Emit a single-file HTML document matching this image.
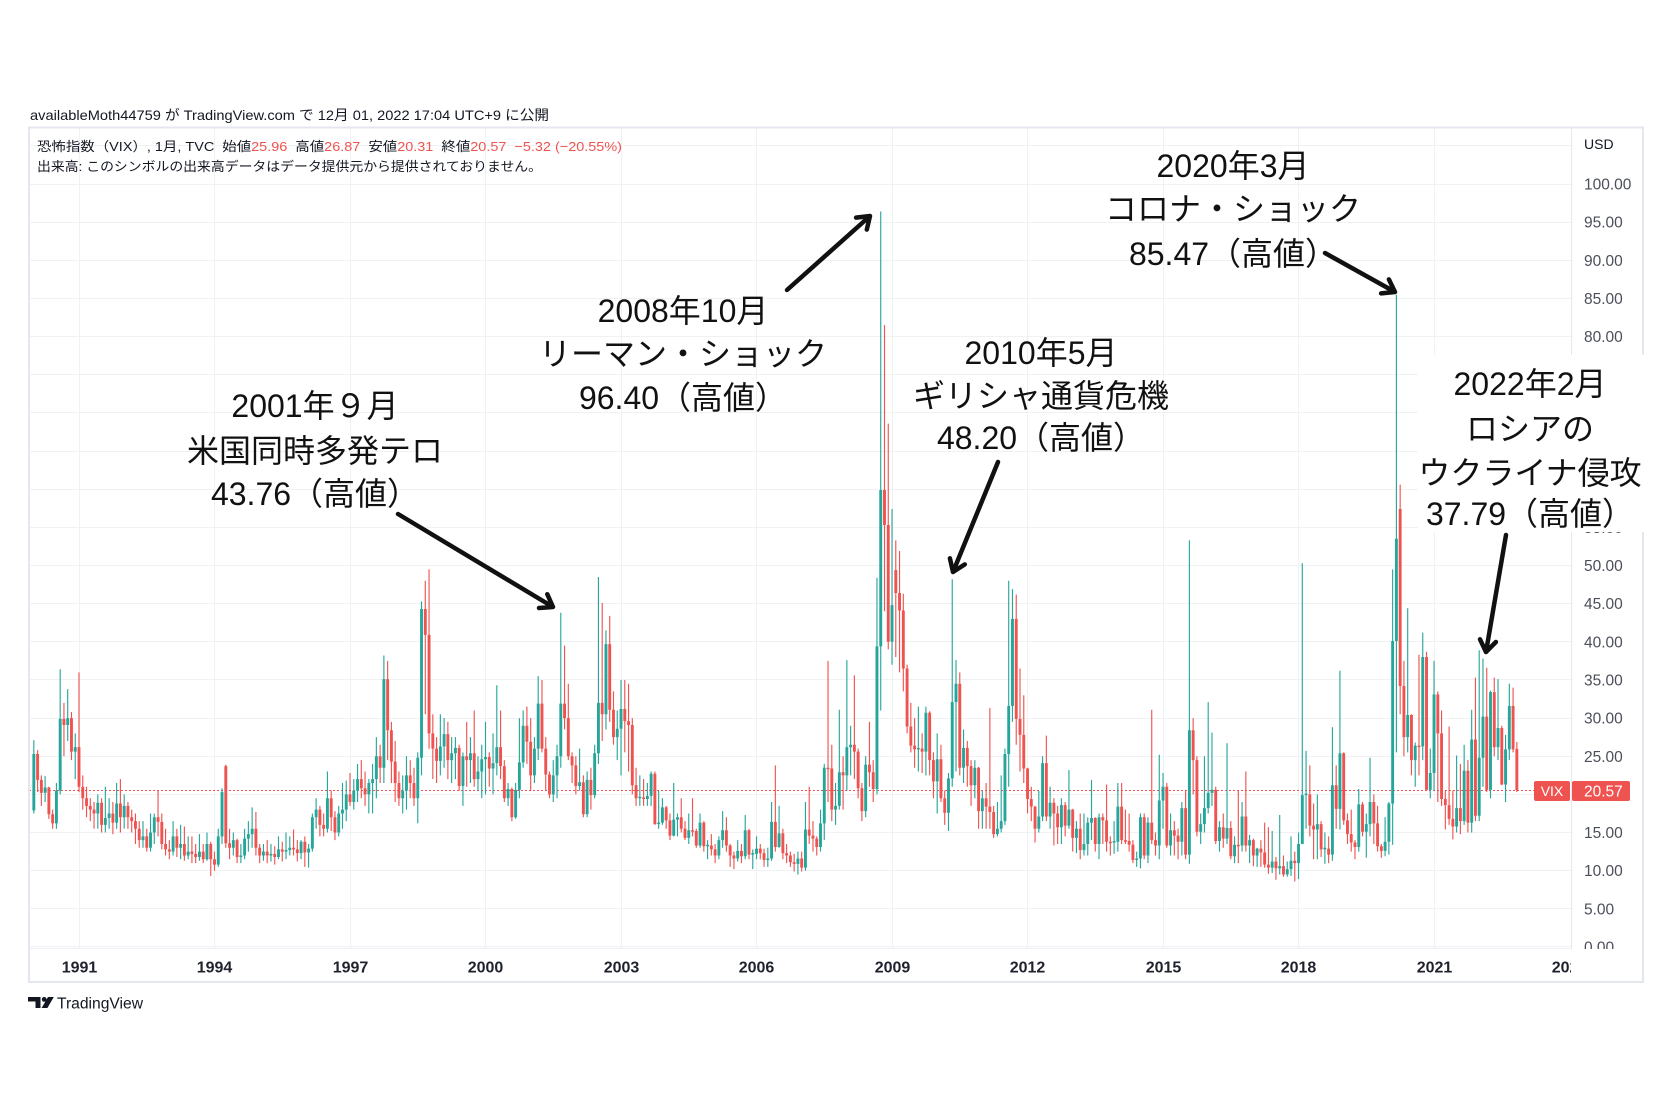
<!DOCTYPE html>
<html><head><meta charset="utf-8"><style>
html,body{margin:0;padding:0;background:#fff;}
svg{display:block;}
.ax{font-family:"Liberation Sans","Noto Sans CJK JP",sans-serif;}
.an{font-family:"Liberation Sans","Noto Sans CJK JP",sans-serif;font-size:32px;fill:#111;}
</style></head><body>
<svg width="1680" height="1120" viewBox="0 0 1680 1120" xmlns="http://www.w3.org/2000/svg">
<defs>
<clipPath id="pax"><rect x="1572" y="128" width="72" height="821"/></clipPath>
<clipPath id="tax"><rect x="29" y="949" width="1542" height="32"/></clipPath>
</defs>
<rect width="1680" height="1120" fill="#fff"/>
<!-- header -->
<text class="ax" x="30" y="120" font-size="14" fill="#131722" textLength="519" lengthAdjust="spacingAndGlyphs">availableMoth44759 が TradingView.com で 12月 01, 2022 17:04 UTC+9 に公開</text>
<!-- gridlines -->
<g stroke="#eff1f5" stroke-width="1" fill="none">
<path d="M29 946.5H1571M29 908.5H1571M29 870.5H1571M29 832.5H1571M29 794.5H1571M29 756.5H1571M29 718.5H1571M29 679.5H1571M29 641.5H1571M29 603.5H1571M29 565.5H1571M29 527.5H1571M29 489.5H1571M29 451.5H1571M29 412.5H1571M29 374.5H1571M29 336.5H1571M29 298.5H1571M29 260.5H1571M29 222.5H1571M29 184.5H1571M29 145.5H1571"/>
<path d="M79.5 128V948M214.5 128V948M350.5 128V948M485.5 128V948M621.5 128V948M756.5 128V948M892.5 128V948M1027.5 128V948M1163.5 128V948M1298.5 128V948M1434.5 128V948"/>
</g>
<line x1="29" y1="948.5" x2="1571" y2="948.5" stroke="#eceef2" stroke-width="1"/>
<line x1="1571.5" y1="128" x2="1571.5" y2="949" stroke="#e6e8ee" stroke-width="1"/>
<!-- legend -->
<text class="ax" x="37" y="151" font-size="13" fill="#131722" textLength="585" lengthAdjust="spacingAndGlyphs" style="white-space:pre">恐怖指数（VIX）, 1月, TVC  始値<tspan fill="#ef5350">25.96</tspan>  高値<tspan fill="#ef5350">26.87</tspan>  安値<tspan fill="#ef5350">20.31</tspan>  終値<tspan fill="#ef5350">20.57</tspan>  <tspan fill="#ef5350">−5.32 (−20.55%)</tspan></text>
<text class="ax" x="37" y="171" font-size="13" fill="#131722" textLength="505" lengthAdjust="spacingAndGlyphs">出来高: このシンボルの出来高データはデータ提供元から提供されておりません。</text>
<!-- price line -->
<line x1="29" y1="790.5" x2="1534" y2="790.5" stroke="#ef5350" stroke-width="1" stroke-dasharray="2 2"/>
<!-- candles -->
<g transform="matrix(3.764 0 0 -7.63 33.83 947)" fill="none" stroke-linecap="butt">
<path stroke="#26a69a" stroke-width="0.3" d="M0 17.5V27.1M3 19V22.4M6 15.5V21.5M7 20V36.4M9 27V33.8M11 22V28M17 15.5V20M19 15V21M20 15.5V19.5M22 15.5V21.5M24 15.5V20M29 13V16.5M31 12.5V17.5M32 13.5V17.5M37 12V16.5M39 11.5V16M41 11.5V14.5M44 11.3V14.8M46 11.3V15M49 10.5V15.5M50 13.5V20.8M53 12V15M55 11V13.5M56 11.5V15.5M57 12.5V16.5M58 13V18.3M61 11.3V13.5M63 11.2V13.5M65 11.5V14.5M67 11.5V15M68 12V14.5M71 11.5V14M73 10.4V13.5M74 12.5V17.5M75 15.5V19.5M78 15V23M81 14.5V18.5M82 15.5V21.5M83 16.5V21.8M85 18V22M86 19V24M89 17.5V22M90 17.5V24M91 19.5V27.5M93 21.5V38.2M98 17.5V22.5M99 18V25M102 16.2V25.5M103 22.5V45.3M108 22.5V30.5M109 23.5V30M111 21.5V27.5M112 22V27.5M114 18.5V25.5M116 21.5V27.5M118 20.5V25M119 19.5V26.5M120 20V29.5M122 20V28M123 22.5V34.3M126 18.5V21.5M128 16.8V21.5M129 19.5V30M130 23.5V31M133 21.5V27.5M134 24.5V35.5M138 19V24.5M139 19.5V26.5M140 23.5V43.8M145 20.5V26M147 17V23M149 19.5V26.5M150 24V48.5M152 28.5V41.5M155 24.5V31M156 22.5V35M161 18.5V22.5M163 18.5V21.5M164 18.5V23M166 15.5V20.5M167 16V19.5M170 14.5V21.5M171 14.5V17.5M174 13.5V17.5M177 13V17.5M179 11.5V14M182 11.5V14.5M183 13V17.8M187 11.2V14M189 11.5V17.3M191 10.2V12.8M192 11.5V14.5M195 10.5V13M196 11.3V19M198 13V18.5M203 9.5V12.5M205 10V19M209 12.5V18M210 14V24M213 16V21.5M214 18V31.1M216 20.5V37.6M217 22.5V29M221 17V25M224 20V48.4M225 31V96.4M228 37V57.4M235 23V31.5M237 22.5V31.5M240 17.5V28M243 15.2V22.8M244 21V48.2M245 23V37.6M247 21.5V28.5M250 19.5V24.5M252 15.5V20.5M256 14.5V19M257 15V22.5M258 16V26M259 21V48M260 29.5V46.9M267 15V20.5M268 16.5V25M270 15.5V21M273 13.5V19.5M275 15.5V23.2M277 12.3V16.5M279 12V17.5M280 12V17M281 14V21.9M283 11.5V17.5M287 12.2V16.5M288 12.5V21.5M293 10.5V12.5M294 10.3V17.5M296 11V17M299 11.5V25.2M300 15.5V22.8M302 12V17.5M305 12V19M307 10.9V53.3M310 13.5V17.5M311 15V25M312 17.5V32.1M313 18.5V28.1M315 12.5V16.5M317 13.5V26.7M319 11V14.5M321 12.5V19M323 11V14.7M325 10.5V13M329 9.7V15.2M331 9.5V17.3M333 9.2V11.2M334 9.3V14.5M336 8.9V15M337 13.5V50.3M338 15.5V25.7M341 11.5V20M343 10.9V15M345 11.3V28.8M347 15.4V36.2M352 12.5V20.7M354 11.7V17.5M355 14.5V24.8M359 11.9V17M360 12.1V19M361 13.4V49.5M362 25.5V85.5M365 25.5V44.4M367 21V26.8M369 24.5V41.2M371 19.5V26M372 20.5V37.5M378 15V25.1M380 16V26.5M382 15V31.1M384 16.5V38.9M385 21V37.8M387 19.5V33.6M389 24.5V35.1M391 19V27.8M392 24.5V34.5"/>
<path stroke="#26a69a" stroke-width="0.77" d="M0 17.9V25.3M3 20.2V20.9M6 16.2V20.5M7 20.5V29.9M9 29.1V30M11 25.6V26.2M17 17.5V18.9M19 16V16.9M20 16.9V17.5M22 16.3V18.8M24 17V18.5M29 14V14.5M31 13V15M32 15V17M37 12.5V14.5M39 13V13.5M41 12V12.5M44 11.8V12.5M46 11.5V13.5M49 10.8V14.5M50 14.5V20.3M53 13V14M55 11.8V12M56 12V14.2M57 14.2V14.8M58 14.8V15.5M61 12V12.5M63 12V12.2M65 11.8V12.8M67 12.5V12.7M68 12.7V13M71 12.3V13.8M73 12.4V12.9M74 12.9V17M75 17V18M78 15.5V19.5M81 15V17.5M82 17.5V18M83 18V20M85 19V20.5M86 20.5V22M89 20V21.5M90 21.5V22M91 22V25M93 23.5V35.1M98 19.5V20.5M99 20.5V22.5M102 19.5V24.8M103 24.8V44.3M108 24.4V26.3M109 26.3V27.9M111 24.5V25.4M112 25.4V26.1M114 21.1V25M116 24.5V25.4M118 22V23M119 23V24.6M120 24.6V24.9M122 23.4V24.1M123 24.1V26.2M126 19.5V20.7M128 17V20.6M129 20.6V24.2M130 24.2V29M133 22.5V26M134 26V31.9M138 20V22.5M139 22.5V25M140 25V31.9M145 21.1V21.6M147 17.4V21.9M149 19.9V25.4M150 25.4V32M152 30.5V39.7M155 27.5V28.6M156 28.6V31.2M161 19.5V19.7M163 19.4V19.8M164 19.8V22.7M166 16.1V16.3M167 16.3V18.3M170 14.6V16.7M171 16.7V17M174 14.3V15.3M177 13.3V16.3M179 13.2V13.4M182 12V14M183 14V15.3M187 11.6V12.6M189 11.9V15.3M191 12.1V12.3M192 12.2V12.9M195 11.4V11.6M196 11.6V16.4M198 13.1V14.9M203 10.9V11.6M205 10.4V15.4M209 13.1V16.2M210 16.2V23.5M213 18V18.5M214 18.5V22.9M216 22.5V26.2M217 26.2V26.5M221 17.8V23.9M224 20.7V39.4M225 39.4V59.9M228 40V44.8M235 25.9V26.1M237 25.6V30.7M240 21.7V24.6M243 17.6V22.1M244 22.1V32.1M245 32.1V34.5M247 23.5V26.1M250 21.2V23.5M252 17.8V19.5M256 14.8V15.5M257 15.5V16.5M258 16.5V25.3M259 25.3V31.6M260 31.6V43M267 15.5V17.1M268 17.1V24.1M270 17.1V18.9M273 15.7V18.6M275 15.9V18M277 14.3V15.5M279 12.7V13.5M280 13.5V16.3M281 16.3V16.9M283 13.5V17M287 13.7V13.9M288 13.8V18.4M293 11.4V11.6M294 11.6V17M296 12V16.3M299 13.3V19.2M300 19.2V21M302 13.3V15.3M305 13.8V18.2M307 12.1V28.4M310 15.1V16.1M311 16.1V18.2M312 18.2V20.2M313 20.2V20.6M315 13.9V15.7M317 14.2V15.6M319 11.9V13.4M321 13.3V17.1M323 13.3V14M325 12V12.9M329 10.4V11.2M331 10.3V10.6M333 9.5V10.2M334 10.2V11.3M336 11V13.5M337 13.5V19.9M338 19.9V20.1M341 15.4V16.1M343 12.8V13M345 12.1V21.2M347 18.1V25.4M352 13.1V18.7M354 15.1V16.1M355 16.1V19M359 12.6V13.8M360 13.8V18.8M361 18.8V40.1M362 40.1V53.5M365 27.5V30.4M367 24.5V26.4M369 26.3V38M371 20.6V22.8M372 22.8V33.1M378 15.8V18.2M380 16.5V23.1M382 16.3V27.2M384 17.2V24.8M385 24.8V30.2M387 20.6V33.4M389 26.2V28.7M391 21.3V25.9M392 25.9V31.6"/>
<path stroke="#ef5350" stroke-width="0.3" d="M1 20.3V25.8M2 18.5V22.5M4 16.8V21M5 15.5V18M8 25V32M10 24.5V30.8M12 20.3V36M13 18V22.5M14 17V21M15 16.5V19.5M16 15.5V19M18 15V19.5M21 14.8V19M23 15V22M25 15.5V19M26 15V18M27 13.5V17.5M28 13V16.5M30 12.5V15.5M33 14.5V20.5M34 12.8V17.5M35 12V15.5M36 11.5V14M38 11.8V15.5M40 11.3V15.8M42 11V14.5M43 11V13.5M45 11V13.5M47 9.3V13.8M48 10V12.5M51 13V23.9M52 11.5V15.5M54 11V14.2M59 12V17.7M60 11V13.5M62 11V14M64 10.8V13.2M66 11.2V13.8M69 12V15.4M70 11.2V14M72 10.5V14.5M76 14.5V18.5M77 14.5V17.5M79 15.2V20.5M80 14V17.8M84 18.5V22.8M87 19.5V24.5M88 18.5V23M92 21.5V26.5M94 24.5V37.5M95 21.5V29.5M96 19V27M97 18.5V23M100 19.5V24.5M101 18.5V23.5M104 30.5V48M105 26V49.5M106 22V30.5M107 21.5V27.5M110 22V29.5M113 20.5V26.5M115 21V29.5M117 21V31M121 21V25.5M124 22V31M125 19V24.5M127 16.5V20.9M131 24V31.5M132 20.5V30M135 25.5V35M136 20.5V27.5M137 19.5V23M141 28.5V39.5M142 24.5V34.5M143 21.5V25.5M144 20V25M146 17V22.5M148 18V23.5M151 27V45.1M153 29.5V43.4M154 26.5V33.5M157 25.5V35M158 23V34.5M159 20V30M160 18.5V23.5M162 18.5V22M165 16V23M168 15.5V18.5M169 14V17.5M172 15V19.5M173 14V16.5M175 14.5V19.5M176 13V15.5M178 12.5V16.5M180 12V14.8M181 11V13.5M184 12.5V17M185 10.5V13.5M186 10.2V12.5M188 11V13.5M190 11.5V15.5M193 11.5V13.5M194 10.5V12.9M197 12.5V23.8M199 11.5V15.5M200 11V13.5M201 10.5V12.5M202 9.9V12.2M204 9.9V12.5M206 13.5V21M207 12.5V16.5M208 12V14.5M211 19V37.5M212 16.5V26.5M215 18V25M218 22V35.6M219 19.5V26M220 16.5V21.5M222 21V29.5M223 19V24.5M226 44V81.5M227 39V68.6M229 38V53.3M230 36V51.9M231 33.5V46.3M232 28V37M233 25.5V32M234 23.5V30M236 22.8V28M238 22.5V30.9M239 19.5V25.5M241 19V26.5M242 16V20.5M246 22.5V36M248 21V27M249 18.5V24.5M251 15.5V23.6M253 15.5V21.5M254 15.5V31.3M255 14.3V18.5M261 26.5V46.2M262 23V36.5M263 21.5V33M264 17.5V23.5M265 16.5V21M266 13.7V18.5M269 16.5V27.7M271 13.3V19.5M272 13.5V18.5M274 14.5V19M276 12.5V18.1M278 11.5V17.5M282 12.5V17M284 13.5V17.5M285 12.5V21.3M286 12V14.5M289 13.5V21.5M290 13.5V18M291 12.5V17.5M292 11V14M295 11.5V17.5M297 13.5V31.1M298 12V15M301 13V21.5M303 12V16.5M304 11.5V15.5M306 11.5V20.5M308 20V30M309 14.5V25M314 13.5V21M316 13V17.5M318 11.5V16.5M320 11V20.5M322 12.5V23M324 10.6V14.2M326 10.5V14M327 10.4V16.3M328 9.6V15.7M330 8.8V11.8M332 9.2V12M335 8.6V12.5M339 14.5V23.8M340 11.5V18.8M342 11.8V16.5M344 11V14.5M346 15.5V23.8M348 16V25.5M349 13.5V17.5M350 12.5V18M351 11.5V14M353 14.5V19M356 13.5V20M357 12.5V18.5M358 11.7V13.5M363 30.5V60.6M364 25V37.5M366 22.5V30.5M368 22.5V38.3M370 20.5V38.7M373 19V33.5M374 18.5V31M375 15.4V20.5M376 16V28.9M377 14.1V20.5M379 14.8V24M381 15V24.5M383 16.5V35.3M386 20.3V36.6M388 25V35.3M390 21.2V29M393 25.5V34M394 20.31V26.87"/>
<path stroke="#ef5350" stroke-width="0.77" d="M1 25.3V21.9M2 21.9V20.2M4 20.9V17.4M5 17.4V16.2M8 29.9V29.1M10 30V25.6M12 26.2V21M13 21V19.5M14 19.5V18.5M15 18.5V18M16 18V17.5M18 18.9V16M21 17.5V16.3M23 18.8V17M25 18.5V17M26 17V16.5M27 16.5V15.5M28 15.5V14M30 14.5V13M33 17V16.4M34 16.4V13.5M35 13.5V12.8M36 12.8V12.5M38 14.5V13M40 13.5V12M42 12.5V12.2M43 12.2V11.8M45 12.5V11.5M47 13.5V11.5M48 11.5V10.8M51 23.7V13.6M52 13.6V13M54 14V11.8M59 15.5V13M60 13V12M62 12.5V12M64 12.2V11.8M66 12.8V12.5M69 13V12.8M70 12.8V12.3M72 13.8V12.4M76 18V16M77 16V15.5M79 19.5V17M80 17V15M84 20V19M87 22V20.8M88 20.8V20M92 25V23.5M94 35.1V28.4M95 28.4V24.3M96 24.3V21.5M97 21.5V19.5M100 22.5V21.5M101 21.5V19.5M104 44.3V40.9M105 40.9V28M106 28V26M107 26V24.4M110 27.9V24.5M113 26.1V21.1M115 25V24.5M117 25.4V22M121 24.9V23.4M124 26.2V23.7M125 23.7V19.5M127 20.7V17M131 29V26.9M132 26.9V22.5M135 31.9V26M136 26V22.6M137 22.6V20M141 31.9V30M142 30V25M143 25V23.8M144 23.8V21.1M146 21.6V17.4M148 21.9V19.9M151 32V30.5M153 39.7V31.1M154 31.1V27.5M157 31.2V29.6M158 29.6V29.1M159 29.1V21.2M160 21.2V19.5M162 19.6V19.4M165 22.7V16.1M168 18.3V16.6M169 16.6V14.6M172 17V15.5M173 15.5V14.3M175 15.3V15.1M176 15.2V13.3M178 16.3V13.2M180 13.3V12.8M181 12.8V12M184 15.3V13.3M185 13.3V12M186 12V11.6M188 12.6V11.9M190 15.3V12.1M193 12.9V12.3M194 12.3V11.4M197 16.4V13.1M199 14.9V12.3M200 12.3V12M201 12V11.1M202 11.1V10.9M204 11.6V10.4M206 15.4V14.6M207 14.6V14.2M208 14.2V13.1M211 23.5V23.3M212 23.4V18M215 22.9V22.5M218 26.5V25.6M219 25.6V20.8M220 20.8V17.8M222 23.9V22.9M223 22.9V20.7M226 59.9V55.3M227 55.3V40M229 49.4V46.4M230 46.4V44.1M231 44.1V36.5M232 36.5V28.9M233 28.9V26.4M234 26.4V25.9M236 26V25.6M238 30.7V24.5M239 24.5V21.7M241 24.6V19.5M242 19.5V17.6M246 34.5V23.5M248 26.1V23.7M249 23.7V21.2M251 23.5V17.8M253 19.5V18.4M254 18.4V17.7M255 17.7V14.8M261 43V29.9M262 29.9V27.8M263 27.8V23.4M264 23.4V19.4M265 19.4V18.4M266 18.4V15.5M269 24.1V17.1M271 18.9V17.5M272 17.5V15.7M274 18.6V15.9M276 18V14.3M278 15.5V12.7M282 16.9V13.5M284 17V16.6M285 16.6V13.8M286 13.8V13.6M289 18.4V14M290 14V13.8M291 13.9V13.4M292 13.4V11.4M295 17V12M297 16.3V14M298 14V13.3M301 21V13.3M303 15.3V14.6M304 14.6V13.8M306 18.2V12.1M308 28.4V24.5M309 24.5V15.1M314 20.6V13.9M316 15.7V14.2M318 15.6V11.9M320 13.4V13.2M322 17.1V13.3M324 14V12M326 12.9V12.4M327 12.4V10.8M328 10.8V10.4M330 11.2V10.3M332 10.6V9.5M335 11.3V11M339 20V15.9M340 15.9V15.4M342 16.1V12.8M344 12.9V12.1M346 21.2V18.1M348 25.4V16.6M349 16.6V14.8M350 14.8V13.7M351 13.7V13.1M353 18.7V15.1M356 19V16.2M357 16.2V13.2M358 13.2V12.6M363 57.4V34.2M364 34.2V27.5M366 30.4V24.5M368 26.4V26.2M370 38V20.6M373 33.1V28M374 28V19.4M375 19.4V18.6M376 18.6V16.8M377 16.8V15.8M379 18.2V16.5M381 23.1V16.3M383 27.2V17.2M386 30.2V20.6M388 33.4V26.2M390 28.7V21.3M393 31.6V25.9M394 25.96V20.57"/>
</g>
<!-- price axis labels -->
<g class="ax" font-size="15.5" fill="#4c4f59" clip-path="url(#pax)">
<text x="1584" y="952.5">0.00</text>
<text x="1584" y="914.4">5.00</text>
<text x="1584" y="876.2">10.00</text>
<text x="1584" y="838.1">15.00</text>
<text x="1584" y="799.9">20.00</text>
<text x="1584" y="761.8">25.00</text>
<text x="1584" y="723.6">30.00</text>
<text x="1584" y="685.5">35.00</text>
<text x="1584" y="647.3">40.00</text>
<text x="1584" y="609.2">45.00</text>
<text x="1584" y="571">50.00</text>
<text x="1584" y="532.9">55.00</text>
<text x="1584" y="494.7">60.00</text>
<text x="1584" y="456.6">65.00</text>
<text x="1584" y="418.4">70.00</text>
<text x="1584" y="380.3">75.00</text>
<text x="1584" y="342.1">80.00</text>
<text x="1584" y="304">85.00</text>
<text x="1584" y="265.8">90.00</text>
<text x="1584" y="227.7">95.00</text>
<text x="1584" y="189.5">100.00</text>
</g>
<text class="ax" x="1584" y="149" font-size="14" fill="#131722">USD</text>
<!-- time axis labels -->
<g class="ax" font-size="16" font-weight="bold" fill="#1e222d" text-anchor="middle" clip-path="url(#tax)">
<text x="79.5" y="972.5">1991</text>
<text x="214.5" y="972.5">1994</text>
<text x="350.5" y="972.5">1997</text>
<text x="485.5" y="972.5">2000</text>
<text x="621.5" y="972.5">2003</text>
<text x="756.5" y="972.5">2006</text>
<text x="892.5" y="972.5">2009</text>
<text x="1027.5" y="972.5">2012</text>
<text x="1163.5" y="972.5">2015</text>
<text x="1298.5" y="972.5">2018</text>
<text x="1434.5" y="972.5">2021</text>
<text x="1569.5" y="972.5">2024</text>
</g>
<!-- frame -->
<rect x="29" y="127.5" width="1614" height="854.5" fill="none" stroke="#e4e7ed" stroke-width="2"/>
<!-- VIX price label -->
<rect x="1534" y="781" width="36" height="20" rx="2" fill="#ef5350"/>
<rect x="1572" y="781" width="58" height="20" rx="2" fill="#ef5350"/>
<text class="ax" x="1552" y="796" font-size="14" fill="#fff" text-anchor="middle">VIX</text>
<text class="ax" x="1584" y="796.5" font-size="15.5" fill="#fff">20.57</text>
<!-- white box behind 2022 annotation -->
<rect x="1418" y="355" width="250" height="177" fill="#fff"/>
<!-- annotations -->
<g class="an" text-anchor="middle">
<text x="315" y="417">2001年９月</text>
<text x="315" y="462">米国同時多発テロ</text>
<text x="315" y="505">43.76（高値）</text>
<text x="683" y="322">2008年10月</text>
<text x="683" y="365">リーマン・ショック</text>
<text x="683" y="409">96.40（高値）</text>
<text x="1041" y="364">2010年5月</text>
<text x="1041" y="407">ギリシャ通貨危機</text>
<text x="1041" y="449">48.20（高値）</text>
<text x="1233" y="177">2020年3月</text>
<text x="1233" y="220">コロナ・ショック</text>
<text x="1233" y="265">85.47（高値）</text>
<text x="1530" y="395">2022年2月</text>
<text x="1530" y="440">ロシアの</text>
<text x="1530" y="484">ウクライナ侵攻</text>
<text x="1530" y="525">37.79（高値）</text>
</g>
<!-- arrows -->
<g stroke="#111" stroke-width="4.5" fill="none" stroke-linecap="round" stroke-linejoin="round">
<path d="M398 514L553 607M547.3 594.2L553 607L539 608"/>
<path d="M787 290L870 216M856.1 217.6L870 216L866.8 229.6"/>
<path d="M998 462L953 572M964.8 564.4L953 572L949.9 558.3"/>
<path d="M1325 253L1395 292M1388.9 279.4L1395 292L1381.1 293.4"/>
<path d="M1506 535L1486 652M1495.9 642L1486 652L1480 639.3"/>
</g>
<!-- TradingView footer logo -->
<g fill="#131722">
<path d="M28 997H40.5V1008H35.5V1001.5H28Z"/>
<circle cx="44.2" cy="999.4" r="2.4"/>
<path d="M48 997H53.8L47.4 1008H41.6Z"/>
</g>
<text class="ax" x="57" y="1008.5" font-size="15.5" fill="#131722" textLength="86" lengthAdjust="spacingAndGlyphs">TradingView</text>
</svg>
</body></html>
